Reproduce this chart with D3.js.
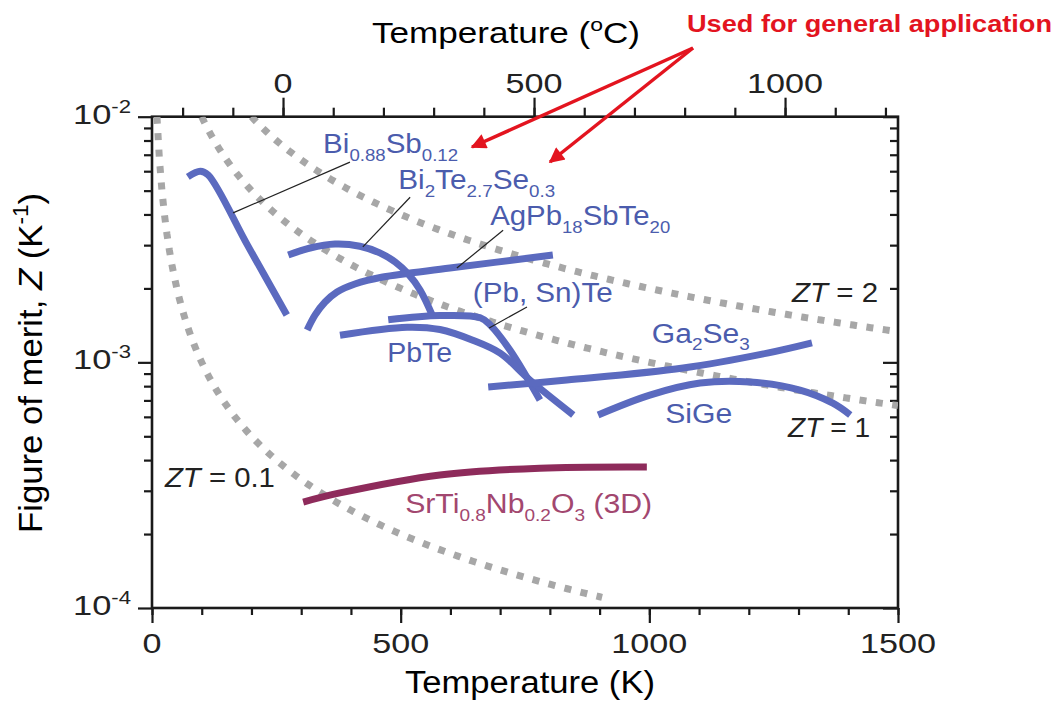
<!DOCTYPE html>
<html>
<head>
<meta charset="utf-8">
<script src="https://cdn.jsdelivr.net/npm/d3@7"></script>
<style>
  body { margin: 0; background: #fff; }
  svg text { font-family: Arial, "Liberation Sans", Helvetica, sans-serif; }
</style>
</head>
<body>
<div id="chart"></div>
<script>
// curves: [temperature (K), Z (1/K)]
var biSb   = [[72,5.69e-3],[97,6.0e-3],[113,5.79e-3],[192,3.0e-3],[271,1.56e-3]];
var biTe   = [[274,2.735e-3],[318,2.92e-3],[368,3.03e-3],[418,2.97e-3],[458,2.79e-3],[489,2.56e-3],[515,2.29e-3],[539,1.97e-3],[565,1.53e-3]];
var agPb   = [[312,1.353e-3],[328,1.559e-3],[348,1.76e-3],[372,1.934e-3],[408,2.085e-3],[464,2.225e-3],[599,2.42e-3],[806,2.735e-3]];
var pbSnTe = [[475,1.49e-3],[579,1.55e-3],[660,1.52e-3],[680,1.42e-3],[720,1.12e-3],[780,7.03e-4]];
var pbTe   = [[378,1.29e-3],[513,1.39e-3],[579,1.36e-3],[645,1.23e-3],[700,1.09e-3],[760,8.47e-4],[847,6.11e-4]];
var ga2Se3 = [[676,7.94e-4],[834,8.47e-4],[1068,9.48e-4],[1237,1.09e-3],[1327,1.2e-3]];
var siGe   = [[897,6.11e-4],[1001,7.36e-4],[1102,8.24e-4],[1202,8.32e-4],[1303,7.71e-4],[1369,6.82e-4],[1404,6.11e-4]];
var srTi   = [[304,2.7e-4],[378,2.94e-4],[579,3.48e-4],[780,3.71e-4],[995,3.75e-4]];

// iso-ZT guide lines (Z = ZT / T) and the T span each one is drawn over
var ztValues = [0.1, 1, 2];
var ztFrom   = [10, 100, 200];
var ztTo     = [905, 1500, 1500];

// axis ticks
var kTicks = [0, 500, 1000, 1500];
var cTicks = [0, 500, 1000];
var zDecades = [1e-4, 1e-3, 1e-2];
var zDecadeLabels = ["-4", "-3", "-2"];

(function(){
  var W = 1059, H = 713;
  var margin = {top: 116.7, right: 161, bottom: 105, left: 152};
  var width = W - margin.left - margin.right,
      height = H - margin.top - margin.bottom;

  var blue = "#5b6abf", blueText = "#4b5cad",
      maroon = "#8e2b5b", maroonText = "#a2476f",
      ink = "#1a1a1a";

  var svg = d3.select("#chart")
    .append("svg")
    .attr("width", W)
    .attr("height", H);

  var g = svg.append("g")
    .attr("transform", "translate(" + margin.left + "," + margin.top + ")");

  var x = d3.scaleLinear().domain([0, 1500]).range([0, width]);
  // the celsius axis in the figure is not exactly K-273, follow the picture
  var xC = d3.scaleLinear().domain([-261, 1225]).range([0, width]);
  var y = d3.scaleLog().domain([1e-4, 1e-2]).range([height, 0]);

  // text with sub/superscripts, parts = [[text, "sub"|"sup"|"i"|undefined], ...]
  function rich(parent, px, py, parts, size, len, anchor) {
    var t = parent.append("text")
      .attr("x", px).attr("y", py)
      .style("font-size", size + "px");
    if (anchor) t.attr("text-anchor", anchor);
    var shift = 0;
    parts.forEach(function(p){
      var target = p[1] == "sub" ? size * 0.28 : p[1] == "sup" ? -size * 0.4 : 0;
      var ts = t.append("tspan").text(p[0]).attr("dy", target - shift);
      shift = target;
      if (p[1] == "sub" || p[1] == "sup") ts.style("font-size", Math.round(size * 0.64) + "px");
      if (p[1] == "i") ts.style("font-style", "italic");
    });
    if (len) t.attr("textLength", len).attr("lengthAdjust", "spacingAndGlyphs");
    return t;
  }

  // ---- ticks ----
  var minorK = d3.range(0, 1501, 100);
  var minorC = d3.range(-200, 1201, 100);
  var minorZ = [];
  [1e-4, 1e-3].forEach(function(d){ for (var i = 2; i < 10; i++) minorZ.push(d * i); });

  function tickStyle(sel) {
    sel.select(".domain").remove();
    sel.selectAll("line").attr("stroke", ink).attr("stroke-width", 2.2);
    sel.selectAll("text").remove();
  }

  g.append("g").attr("transform", "translate(0," + height + ")")
    .call(d3.axisBottom(x).tickValues(minorK).tickSize(7)).call(tickStyle);
  g.append("g").attr("transform", "translate(0," + height + ")")
    .call(d3.axisBottom(x).tickValues(kTicks).tickSize(15)).call(tickStyle);
  g.append("g")
    .call(d3.axisTop(xC).tickValues(minorC).tickSize(9)).call(tickStyle);
  g.append("g")
    .call(d3.axisTop(xC).tickValues(cTicks).tickSize(19)).call(tickStyle);
  g.append("g")
    .call(d3.axisLeft(y).tickValues(minorZ).tickSize(8)).call(tickStyle);
  g.append("g")
    .call(d3.axisLeft(y).tickValues(zDecades).tickSize(14)).call(tickStyle);
  g.append("g").attr("transform", "translate(" + width + ",0)")
    .call(d3.axisLeft(y).tickValues(minorZ).tickSize(8)).call(tickStyle);
  g.append("g").attr("transform", "translate(" + width + ",0)")
    .call(d3.axisLeft(y).tickValues(zDecades).tickSize(15)).call(tickStyle);

  // frame
  g.append("rect")
    .attr("width", width).attr("height", height)
    .attr("fill", "none").attr("stroke", ink).attr("stroke-width", 2.6);

  // tick labels
  var tickLab = g.append("g").attr("fill", "#222");
  kTicks.forEach(function(d){
    var s = String(d);
    tickLab.append("text")
      .attr("x", x(d)).attr("y", height + 45)
      .attr("text-anchor", "middle")
      .style("font-size", "27px")
      .attr("textLength", 19 * s.length).attr("lengthAdjust", "spacingAndGlyphs")
      .text(s);
  });
  cTicks.forEach(function(d){
    var s = String(d);
    tickLab.append("text")
      .attr("x", xC(d)).attr("y", -24)
      .attr("text-anchor", "middle")
      .style("font-size", "27px")
      .attr("textLength", 19 * s.length).attr("lengthAdjust", "spacingAndGlyphs")
      .text(s);
  });
  zDecades.forEach(function(d, i){
    rich(tickLab, -21, y(d) + 7, [["10"], [zDecadeLabels[i], "sup"]], 28, 58, "end");
  });

  // axis titles
  rich(svg, 405, 693, [["Temperature (K)"]], 31, 250);
  rich(svg, 372, 43, [["Temperature ("], ["o", "sup"], ["C)"]], 29, 268);
  var yt = svg.append("g").attr("transform", "translate(42,363) rotate(-90)");
  rich(yt, 0, 0, [["Figure of merit, "], ["Z", "i"], [" (K"], ["-1", "sup"], [")"]], 34, 340, "middle");

  // ---- ZT guide lines ----
  svg.append("defs").append("clipPath").attr("id", "plot")
    .append("rect").attr("width", width).attr("height", height);

  var guide = d3.line()
    .x(function(d){ return x(d[0]); })
    .y(function(d){ return y(d[1]); });

  var ztLines = ztValues.map(function(zt, i){
    return d3.range(ztFrom[i], ztTo[i] + 1, 5).map(function(t){ return [t, zt / t]; });
  });

  g.append("g").attr("clip-path", "url(#plot)")
    .selectAll(".zt")
    .data(ztLines)
    .enter().append("path")
    .attr("class", "zt")
    .attr("d", guide)
    .attr("fill", "none")
    .attr("stroke", "#a7a7a7")
    .attr("stroke-width", 7)
    .attr("stroke-dasharray", "7,9.5");

  // ---- material curves ----
  var curve = d3.line()
    .x(function(d){ return x(d[0]); })
    .y(function(d){ return y(d[1]); })
    .curve(d3.curveCatmullRom.alpha(0.5));

  var series = [biSb, biTe, agPb, pbSnTe, pbTe, ga2Se3, siGe];
  g.selectAll(".mat")
    .data(series)
    .enter().append("path")
    .attr("class", "mat")
    .attr("d", curve)
    .attr("fill", "none")
    .attr("stroke", blue)
    .attr("stroke-width", 7);

  g.append("path")
    .datum(srTi)
    .attr("d", curve)
    .attr("fill", "none")
    .attr("stroke", maroon)
    .attr("stroke-width", 7);

  // leader lines from the names to their curves (data units)
  var leaders = [
    [[398, 6.53e-3], [163, 4.06e-3]],
    [[519, 4.70e-3], [424, 2.95e-3]],
    [[706, 3.45e-3], [613, 2.42e-3]],
    [[754, 1.68e-3], [678, 1.38e-3]]
  ];
  g.selectAll(".leader")
    .data(leaders)
    .enter().append("path")
    .attr("class", "leader")
    .attr("d", guide)
    .attr("stroke", "#222")
    .attr("stroke-width", 1.2);

  // ---- labels: anchor in data units, width in px ----
  var labels = [
    {at: [344, 7.11e-3], w: 135, c: blueText, p: [["Bi"], ["0.88", "sub"], ["Sb"], ["0.12", "sub"]]},
    {at: [495, 5.08e-3], w: 157, c: blueText, p: [["Bi"], ["2", "sub"], ["Te"], ["2.7", "sub"], ["Se"], ["0.3", "sub"]]},
    {at: [680, 3.62e-3], w: 180, c: blueText, p: [["AgPb"], ["18", "sub"], ["SbTe"], ["20", "sub"]]},
    {at: [645, 1.76e-3], w: 140, c: blueText, p: [["(Pb, Sn)Te"]]},
    {at: [473, 1.0e-3],  w: 65,  c: blueText, p: [["PbTe"]]},
    {at: [1005, 1.2e-3], w: 98,  c: blueText, p: [["Ga"], ["2", "sub"], ["Se"], ["3", "sub"]]},
    {at: [1032, 5.65e-4], w: 67, c: blueText, p: [["SiGe"]]},
    {at: [509, 2.43e-4], w: 247, c: maroonText, p: [["SrTi"], ["0.8", "sub"], ["Nb"], ["0.2", "sub"], ["O"], ["3", "sub"], [" (3D)"]]},
    {at: [1287, 1.76e-3], w: 86, c: "#222", p: [["ZT", "i"], [" = 2"]]},
    {at: [1279, 4.95e-4], w: 82, c: "#222", p: [["ZT", "i"], [" = 1"]]},
    {at: [26, 3.10e-4],  w: 110, c: "#222", p: [["ZT", "i"], [" = 0.1"]]}
  ];
  labels.forEach(function(l){
    rich(g, x(l.at[0]), y(l.at[1]), l.p, 27, l.w).attr("fill", l.c);
  });

  // ---- red call-out added on top of the figure ----
  var red = "#e3141f";
  svg.append("defs").append("marker")
    .attr("id", "head")
    .attr("viewBox", "0 0 10 10")
    .attr("refX", 9).attr("refY", 5)
    .attr("markerWidth", 5).attr("markerHeight", 4.4)
    .attr("orient", "auto")
    .append("path").attr("d", "M0,0L10,5L0,10z").attr("fill", red);

  svg.append("text")
    .attr("x", 687).attr("y", 32)
    .attr("fill", red)
    .style("font-size", "24px").style("font-weight", "bold")
    .attr("textLength", 365).attr("lengthAdjust", "spacingAndGlyphs")
    .text("Used for general application");

  [[472, 147], [550, 162]].forEach(function(tip){
    svg.append("line")
      .attr("x1", 693).attr("y1", 48)
      .attr("x2", tip[0]).attr("y2", tip[1])
      .attr("stroke", red).attr("stroke-width", 3.5)
      .attr("marker-end", "url(#head)");
  });
})();
</script>
</body>
</html>
